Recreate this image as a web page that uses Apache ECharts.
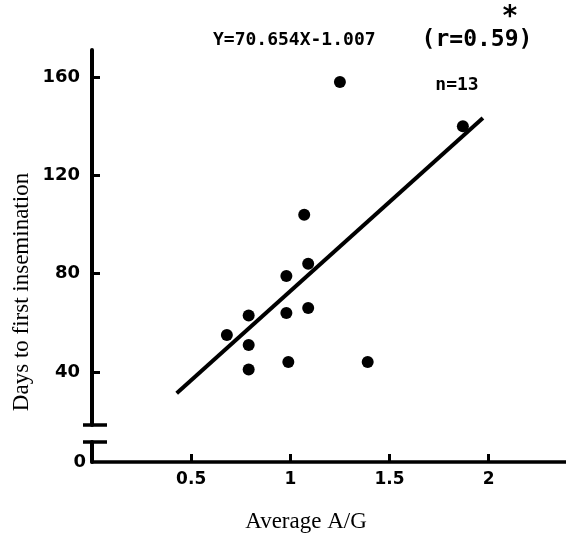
<!DOCTYPE html>
<html><head><meta charset="utf-8">
<script src="https://cdn.jsdelivr.net/npm/echarts@6/dist/echarts.min.js"></script>
<style>html,body{margin:0;padding:0;background:#fff}#c{width:566px;height:534px}</style>
</head><body><div id="c"></div>
<script>
// ---- data ----
const averageAG = [0.68, 0.79, 0.79, 0.79, 0.98, 0.98, 0.99, 1.07, 1.09, 1.09, 1.25, 1.39, 1.87];
const daysToFirstInsemination = [55, 63, 51, 41, 79, 64, 44, 104, 84, 66, 158, 44, 140];
const regressionLineX = [0.427, 1.971];
const regressionLineY = [31.3, 143.3];
const xTickValues = [0.5, 1, 1.5, 2];
const yTickValues = [40, 80, 120, 160];
const lowerYTickValues = [0];
const equationText = 'Y=70.654X-1.007';
const rText = '(r=0.59)';
const starText = '*';
const nText = 'n=13';
const xTitle = 'Average A/G';
const yTitle = 'Days to first insemination';

// axis ranges (upper part and lower part of the broken y axis)
const xMin = 0, xMax = 2.39;
const upperYMin = 18.4, upperYMax = 171;
const lowerYMin = 0, lowerYMax = 8.14;

const points = averageAG.map((x, i) => [x, daysToFirstInsemination[i]]);
const lineData = regressionLineX.map((x, i) => [x, regressionLineY[i]]);

const tickFont = { fontFamily: 'DejaVu Sans', fontWeight: 'bold', fontSize: 18, color: '#000' };
const black = '#000';

// axis-break caps drawn as axis ticks (right half inside, left half outside)
function capAxis(gridIndex, min, max, value, inside, length) {
  return {
    gridIndex, type: 'value', min, max, position: 'left', offset: 0,
    axisLine: { show: false },
    axisLabel: { show: false },
    splitLine: { show: false },
    axisTick: { show: true, inside, length, lineStyle: { color: black, width: 3.5 }, customValues: [value] }
  };
}

const chart = echarts.init(document.getElementById('c'), null, { renderer: 'canvas' });
chart.setOption({
  animation: false,
  backgroundColor: '#fff',
  grid: [
    { left: 92, right: 0, top: 50, height: 375 },
    { left: 92, right: 0, top: 442, height: 20 }
  ],
  xAxis: [
    { gridIndex: 0, type: 'value', min: xMin, max: xMax, show: false },
    {
      gridIndex: 1, type: 'value', min: xMin, max: xMax, position: 'bottom',
      axisLine: { show: true, lineStyle: { color: black, width: 3.5 } },
      axisTick: { show: true, inside: true, length: 8, lineStyle: { color: black, width: 3 }, customValues: xTickValues },
      axisLabel: { show: true, margin: 9, customValues: xTickValues, formatter: v => String(v), ...tickFont, fontSize: 17 },
      splitLine: { show: false }
    }
  ],
  yAxis: [
    {
      gridIndex: 0, type: 'value', min: upperYMin, max: upperYMax, position: 'left',
      axisLine: { show: true, lineStyle: { color: black, width: 4 } },
      axisTick: { show: true, inside: true, length: 8, lineStyle: { color: black, width: 3 }, customValues: yTickValues },
      axisLabel: { show: true, margin: 12, customValues: yTickValues, ...tickFont },
      splitLine: { show: false }
    },
    {
      gridIndex: 1, type: 'value', min: lowerYMin, max: lowerYMax, position: 'left',
      axisLine: { show: true, lineStyle: { color: black, width: 4 } },
      axisTick: { show: false },
      axisLabel: { show: true, margin: 6, customValues: lowerYTickValues, ...tickFont },
      splitLine: { show: false }
    },
    capAxis(0, upperYMin, upperYMax, upperYMin, true, 15),
    capAxis(0, upperYMin, upperYMax, upperYMin, false, 9),
    capAxis(1, lowerYMin, lowerYMax, lowerYMax, true, 15),
    capAxis(1, lowerYMin, lowerYMax, lowerYMax, false, 9)
  ],
  series: [
    {
      name: 'regression', type: 'line', xAxisIndex: 0, yAxisIndex: 0,
      data: lineData, symbol: 'none', silent: true,
      lineStyle: { color: black, width: 4 }
    },
    {
      name: 'cows', type: 'scatter', xAxisIndex: 0, yAxisIndex: 0,
      data: points, symbol: 'circle', symbolSize: 12,
      itemStyle: { color: black, opacity: 1 }
    }
  ],
  graphic: [
    { type: 'text', x: 213, y: 40, style: { text: equationText, font: 'bold 18px "DejaVu Sans Mono"', fill: black, textAlign: 'left', textVerticalAlign: 'middle' } },
    { type: 'text', x: 477, y: 40, style: { text: rText, font: 'bold 23px "DejaVu Sans Mono"', fill: black, textAlign: 'center', textVerticalAlign: 'middle' } },
    { type: 'text', x: 510, y: 18, style: { text: starText, font: 'bold 28px "DejaVu Sans Mono"', fill: black, textAlign: 'center', textVerticalAlign: 'middle' } },
    { type: 'text', x: 457, y: 85, style: { text: nText, font: 'bold 18px "DejaVu Sans Mono"', fill: black, textAlign: 'center', textVerticalAlign: 'middle' } },
    { type: 'text', x: 306, y: 522, style: { text: xTitle, font: '23px "Liberation Serif"', fill: black, textAlign: 'center', textVerticalAlign: 'middle' } },
    { type: 'text', x: 22, y: 292, rotation: Math.PI / 2, style: { text: yTitle, font: '23px "Liberation Serif"', fill: black, textAlign: 'center', textVerticalAlign: 'middle' } }
  ]
});
</script>
</body></html>
